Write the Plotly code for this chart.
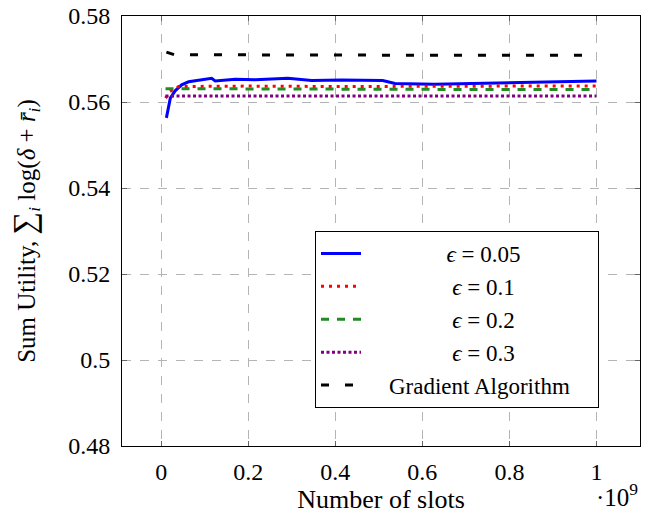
import plotly.graph_objects as go

# x in units of 10^9 slots
x_e005 = [0.012, 0.021, 0.032, 0.047, 0.063, 0.086, 0.116, 0.124, 0.17, 0.216,
          0.291, 0.346, 0.414, 0.509, 0.537, 0.628, 0.72, 0.835, 1.0]
y_e005 = [0.5563, 0.5609, 0.5626, 0.5640, 0.5647, 0.5651, 0.5655, 0.5649, 0.5653, 0.5652,
          0.5655, 0.5650, 0.5651, 0.5650, 0.5643, 0.5641, 0.5643, 0.5646, 0.5649]

x_e01 = [0.01, 0.02, 0.04, 0.2, 0.4, 0.6, 0.8, 1.0]
y_e01 = [0.5609, 0.5624, 0.5636, 0.5637, 0.5636, 0.5637, 0.5637, 0.5637]

x_e02 = [0.01, 0.25, 0.5, 0.75, 1.0]
y_e02 = [0.5631, 0.5630, 0.5629, 0.5629, 0.5629]

x_e03 = [0.01, 0.5, 1.0]
y_e03 = [0.5614, 0.5614, 0.5614]

x_grad = [0.012, 0.03, 0.5, 1.0]
y_grad = [0.5716, 0.5710, 0.5709, 0.5709]

x_ticks = [0, 0.2, 0.4, 0.6, 0.8, 1]
x_ticklabels = ["0", "0.2", "0.4", "0.6", "0.8", "1"]
y_ticks = [0.48, 0.50, 0.52, 0.54, 0.56, 0.58]
y_ticklabels = ["0.48", "0.5", "0.52", "0.54", "0.56", "0.58"]

FONT = "Liberation Serif, Times New Roman, serif"
NB = "\u00a0"

fig = go.Figure()
fig.add_trace(go.Scatter(x=x_e005, y=y_e005, mode="lines",
                         name=NB * 14 + "<i>ϵ</i> = 0.05",
                         line=dict(color="#0000ff", width=3)))
fig.add_trace(go.Scatter(x=x_e01, y=y_e01, mode="lines",
                         name=NB * 15 + "<i>ϵ</i> = 0.1",
                         line=dict(color="#ff0000", width=3, dash="3px,5px")))
fig.add_trace(go.Scatter(x=x_e02, y=y_e02, mode="lines",
                         name=NB * 15 + "<i>ϵ</i> = 0.2",
                         line=dict(color="#228b22", width=3, dash="8px,8px")))
fig.add_trace(go.Scatter(x=x_e03, y=y_e03, mode="lines",
                         name=NB * 15 + "<i>ϵ</i> = 0.3",
                         line=dict(color="#800080", width=3, dash="3px,2.5px")))
fig.add_trace(go.Scatter(x=x_grad, y=y_grad, mode="lines",
                         name=NB * 4 + "Gradient Algorithm" + NB * 4,
                         line=dict(color="#000000", width=3, dash="8px,16px")))

axis_common = dict(
    showline=True, linecolor="black", linewidth=1, mirror="ticks",
    ticks="inside", ticklen=5, tickcolor="#666666", tickwidth=1,
    showgrid=True, gridcolor="#b4b4b4", gridwidth=1, griddash="dash",
    zeroline=False, tickfont=dict(family=FONT, size=24, color="black"),
    automargin=False,
)

fig.update_xaxes(range=[-0.09, 1.1], tickvals=x_ticks, ticktext=x_ticklabels,
                 ticklabelstandoff=4,
                 title=dict(text="Number of slots", font=dict(family=FONT, size=26, color="black"),
                            standoff=4),
                 **axis_common)
fig.update_yaxes(range=[0.48, 0.58], tickvals=y_ticks, ticktext=y_ticklabels,
                 ticklabelstandoff=6,
                 title=dict(text="Sum Utility, <span style=\"font-size:32px\">∑</span><sub><i>i</i></sub> log(<i>δ</i> + <i>r\u0304</i><sub><i>i</i></sub>)",
                            font=dict(family=FONT, size=25, color="black"), standoff=25),
                 **axis_common)

fig.add_annotation(text="·10<sup>9</sup>", xref="paper", yref="paper",
                   x=0.956, y=-0.115, xanchor="center", yanchor="middle",
                   showarrow=False, font=dict(family=FONT, size=25, color="black"))

fig.update_layout(
    width=662, height=516,
    margin=dict(l=122, r=22, t=16, b=70),
    paper_bgcolor="white", plot_bgcolor="white",
    font=dict(family=FONT, size=25, color="black"),
    showlegend=True,
    legend=dict(x=0.3726, y=0.5, xanchor="left", yanchor="top",
                bordercolor="black", borderwidth=1, bgcolor="white",
                font=dict(family=FONT, size=23, color="black"),
                tracegroupgap=0, itemwidth=40),
)

fig.write_html("out.html", config={"displayModeBar": False},
               post_script="document.body.style.margin='0';document.body.style.overflow='hidden';")
